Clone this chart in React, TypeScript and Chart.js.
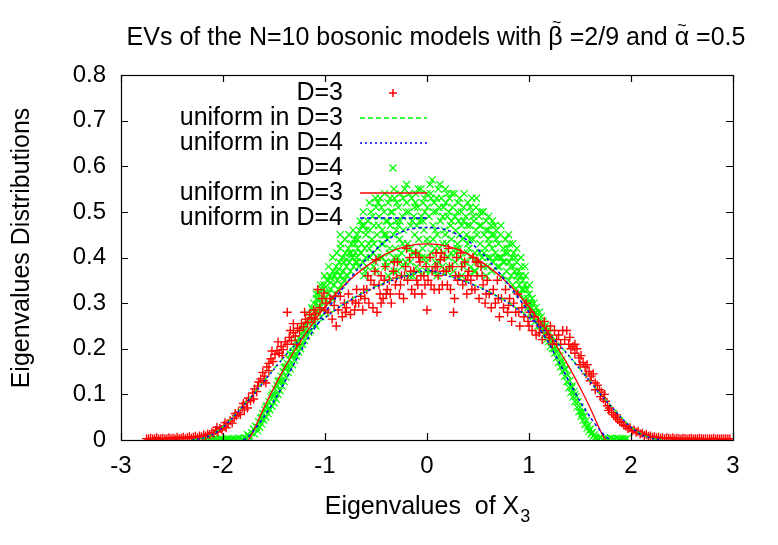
import { useEffect, useRef } from "react";
import { Chart, registerables } from "chart.js";
Chart.register(...registerables);

const TITLE_PARTS = ["EVs of the N=10 bosonic models with ", "β", " =2/9 and ", "α", " =0.5"];
const TILDE = "~";
const X_TITLE = "Eigenvalues  of X";
const X_TITLE_SUB = "3";
const Y_TITLE = "Eigenvalues Distributions";

const xTicks = [-3, -2, -1, 0, 1, 2, 3];
const xTickLabels = ["-3", "-2", "-1", "0", "1", "2", "3"];
const yTicks = [0, 0.1, 0.2, 0.3, 0.4, 0.5, 0.6, 0.7, 0.8];
const yTickLabels = ["0", "0.1", "0.2", "0.3", "0.4", "0.5", "0.6", "0.7", "0.8"];

const legendLabels = ["D=3", "uniform in D=3", "uniform in D=4", "D=4", "uniform in D=3", "uniform in D=4"];

// D=3 eigenvalue histogram points (red +)
const d3Points: [number, number][] = [
  [-2.75,.003],[-2.73,.002],[-2.71,.004],[-2.69,.002],[-2.67,.003],[-2.65,.005],[-2.63,.002],[-2.61,.003],[-2.59,.004],[-2.57,.002],
  [-2.55,.003],[-2.53,.005],[-2.51,.003],[-2.49,.004],[-2.47,.002],[-2.45,.006],[-2.43,.003],[-2.41,.004],[-2.39,.006],[-2.37,.003],
  [-2.35,.005],[-2.33,.007],[-2.31,.004],[-2.29,.006],[-2.27,.008],[-2.25,.005],[-2.23,.009],[-2.21,.007],[-2.19,.011],[-2.17,.009],
  [-2.15,.013],[-2.13,.012],[-2.11,.016],
  [-2.09,.015],[-2.07,.021],[-2.05,.018],[-2.03,.025],[-2.01,.022],[-1.99,.031],[-1.97,.027],[-1.95,.036],[-1.93,.042],[-1.91,.037],
  [-1.89,.048],[-1.87,.053],[-1.85,.06],[-1.83,.056],[-1.81,.072],[-1.79,.066],[-1.77,.083],[-1.75,.092],[-1.73,.086],[-1.71,.103],
  [-1.69,.112],[-1.67,.106],[-1.65,.127],[-1.63,.134],[-1.61,.148],[-1.59,.14],[-1.57,.16],[-1.55,.168],[-1.53,.178],[-1.51,.172],
  [-1.49,.188],[-1.47,.196],[-1.45,.19],[-1.43,.205],[-1.41,.198],[-1.39,.215],[-1.37,.28],[-1.37,.21],[-1.35,.225],[-1.33,.218],
  [-1.31,.235],[-1.29,.228],[-1.27,.245],[-1.6,.13],[-1.7,.09],[-1.8,.08],[-1.46,.215],[-1.55,.152],[-1.31,.255],
  [-1.88,.058],[-1.76,.07],[-1.66,.118],[-1.58,.125],[-1.52,.195],[-1.42,.185],[-1.34,.24],[-1.28,.21],[-1.98,.038],[-2.06,.028],
  [-1.25,.24],[-1.23,.255],[-1.21,.248],[-1.19,.265],[-1.17,.258],[-1.15,.275],[-1.13,.268],[-1.11,.285],[-1.09,.278],[-1.07,.33],
  [-1.05,.29],[-1.03,.31],[-1.01,.322],[-0.99,.3],[-0.97,.28],[-0.95,.31],[-0.93,.265],[-0.91,.295],[-0.89,.25],[-0.87,.285],
  [-0.85,.315],[-0.83,.27],[-0.81,.3],[-0.79,.29],[-0.77,.32],[-0.75,.275],[-0.73,.305],[-0.71,.285],[-0.69,.33],[-0.67,.3],
  [-0.65,.315],[-0.63,.285],[-0.61,.31],[-1.2,.28],[-1.1,.265],[-1.0,.285],[-0.9,.315],[-0.8,.28],[-0.7,.3],[-0.62,.33],
  [-0.59,.33],[-0.57,.3],[-0.55,.35],[-0.53,.29],[-0.51,.37],[-0.49,.28],[-0.47,.34],[-0.45,.36],[-0.43,.31],[-0.41,.38],
  [-0.39,.33],[-0.37,.35],[-0.35,.3],[-0.33,.37],[-0.31,.34],[-0.29,.39],[-0.27,.32],[-0.25,.36],[-0.23,.31],[-0.21,.38],
  [-0.19,.35],[-0.17,.4],[-0.15,.33],[-0.13,.37],[-0.11,.41],[-0.09,.34],[-0.07,.39],[-0.05,.32],[-0.03,.36],[-0.01,.38],
  [0.0,.285],[0.01,.35],[0.03,.4],[0.05,.37],[0.07,.33],[0.09,.41],[0.11,.36],[0.13,.395],[0.15,.34],[0.17,.4],
  [0.19,.37],[0.21,.42],[0.23,.33],[0.25,.38],[0.27,.31],[0.29,.4],[0.31,.36],[0.33,.41],[0.35,.34],[0.37,.39],
  [0.39,.32],[0.41,.37],[0.43,.35],[0.45,.4],[0.47,.33],[0.49,.36],[0.51,.31],[0.53,.38],[0.55,.34],[0.57,.3],[0.59,.35],
  [-0.5,.395],[-0.3,.355],[-0.1,.35],[0.1,.38],[0.3,.35],[0.5,.39],[-0.2,.42],[0.2,.34],[0.26,.28],[-0.4,.32],[0.4,.36],[-0.45,.3],
  [-0.58,.36],[-0.52,.34],[-0.46,.32],[-0.42,.35],[-0.36,.32],[-0.32,.39],[-0.26,.34],[-0.22,.36],[-0.16,.37],[-0.12,.32],
  [-0.06,.36],[-0.02,.34],[0.04,.34],[0.08,.38],[0.12,.33],[0.16,.37],[0.22,.38],[0.28,.36],[0.34,.38],[0.38,.35],
  [0.44,.33],[0.48,.39],[0.54,.36],[0.58,.32],[0.14,.41],[-0.08,.4],
  [0.61,.32],[0.63,.29],[0.65,.33],[0.67,.3],[0.69,.35],[0.71,.27],[0.73,.31],[0.75,.29],[0.77,.33],[0.79,.28],
  [0.81,.31],[0.83,.26],[0.85,.3],[0.87,.28],[0.89,.32],[0.91,.25],[0.93,.29],[0.95,.27],[0.97,.3],[0.99,.26],
  [1.01,.28],[1.03,.24],[1.05,.27],[1.07,.23],[1.09,.26],[1.11,.25],[1.13,.22],[1.15,.26],[1.17,.24],[1.19,.23],
  [1.21,.25],[1.23,.21],[1.25,.24],[1.27,.22],[0.7,.31],[0.8,.295],[0.9,.28],[1.0,.25],[1.1,.235],[1.2,.225],
  [1.29,.23],[1.31,.21],[1.33,.24],[1.35,.22],[1.37,.24],[1.39,.21],[1.41,.2],[1.43,.205],[1.45,.19],[1.47,.2],
  [1.49,.18],[1.51,.185],[1.53,.17],[1.55,.16],[1.57,.165],[1.59,.15],[1.61,.14],[1.63,.145],[1.65,.125],[1.67,.12],
  [1.69,.11],[1.71,.105],[1.73,.09],[1.75,.085],[1.77,.075],[1.79,.07],[1.81,.06],[1.83,.055],[1.85,.05],[1.87,.045],
  [1.89,.04],[1.91,.038],[1.93,.033],[1.95,.03],[1.97,.025],[1.99,.027],[2.01,.02],[2.03,.022],[2.05,.017],[2.07,.019],
  [2.09,.013],[2.11,.015],[2.13,.01],[2.15,.012],[2.17,.008],[2.19,.009],
  [1.5,.165],[1.6,.13],[1.7,.095],[1.4,.225],[1.65,.11],[1.45,.21],[1.78,.065],[1.86,.055],[1.56,.145],[1.74,.1],
  [2.21,.006],[2.23,.007],[2.25,.005],[2.27,.006],[2.29,.004],[2.31,.005],[2.33,.003],[2.35,.005],[2.37,.004],[2.39,.003],
  [2.41,.005],[2.43,.002],[2.45,.004],[2.47,.003],[2.49,.002],[2.51,.004],[2.53,.003],[2.55,.002],[2.57,.003],[2.59,.004],
  [2.61,.002],[2.63,.003],[2.65,.002],[2.67,.004],[2.69,.003],[2.71,.002],[2.73,.003],[2.75,.002],[2.77,.003],[2.79,.002],
  [2.81,.004],[2.83,.002],[2.85,.003],[2.87,.002],[2.89,.003],[2.91,.002],[2.93,.003],[2.95,.002],[2.97,.003],
];

// D=4 eigenvalue histogram points (green x)
const d4Points: [number, number][] = [
  [-2.19,.002],[-2.17,.001],[-2.15,.003],[-2.13,.002],[-2.11,.001],[-2.09,.003],[-2.07,.002],[-2.05,.001],[-2.03,.003],[-2.01,.002],
  [-1.99,.001],[-1.97,.002],[-1.95,.003],[-1.93,.001],[-1.91,.002],[-1.89,.003],[-1.87,.002],[-1.85,.004],[-1.83,.003],[-1.81,.002],
  [-1.79,.005],[-1.77,.004],[-1.75,.007],
  [-1.76,.012],[-1.74,.009],[-1.72,.016],[-1.7,.024],[-1.69,.013],[-1.68,.03],[-1.66,.02],[-1.65,.04],[-1.64,.028],[-1.63,.048],
  [-1.62,.035],[-1.61,.058],[-1.6,.044],[-1.59,.066],[-1.58,.05],[-1.57,.075],[-1.56,.058],[-1.55,.084],[-1.54,.066],[-1.53,.094],
  [-1.52,.074],[-1.51,.102],[-1.5,.082],[-1.49,.112],[-1.48,.09],[-1.47,.12],[-1.46,.1],[-1.45,.13],[-1.44,.108],[-1.43,.14],
  [-1.42,.118],[-1.41,.15],[-1.4,.128],[-1.39,.16],[-1.38,.138],[-1.37,.168],[-1.36,.148],[-1.35,.176],[-1.34,.156],[-1.33,.186],
  [-1.32,.165],[-1.31,.194],[-1.3,.175],[-1.29,.203],[-1.28,.184],[-1.27,.212],[-1.26,.193],[-1.25,.222],[-1.24,.2],[-1.23,.232],
  [-1.22,.21],[-1.21,.24],[-1.2,.218],[-1.19,.25],[-1.18,.228],[-1.17,.258],[-1.16,.236],
  [-1.58,.072],[-1.52,.098],[-1.46,.128],[-1.4,.158],[-1.34,.188],[-1.28,.218],[-1.22,.245],[-1.55,.07],[-1.49,.1],[-1.43,.13],
  [-1.37,.16],[-1.31,.185],[-1.25,.205],[-1.19,.235],[-1.62,.05],[-1.67,.028],
  [-1.15,.27],[-1.14,.24],[-1.13,.29],[-1.12,.26],[-1.11,.3],[-1.1,.27],[-1.09,.25],[-1.08,.31],[-1.07,.28],[-1.06,.32],
  [-1.05,.29],[-1.04,.27],[-1.03,.33],[-1.02,.3],[-1.01,.34],[-1.0,.31],[-0.99,.28],[-0.98,.35],[-0.97,.32],[-0.96,.3],
  [-0.95,.36],[-0.94,.33],[-0.93,.31],[-0.92,.37],[-0.91,.34],[-0.9,.32],[-0.89,.38],[-0.88,.35],[-0.87,.33],[-0.86,.39],
  [-0.85,.36],[-0.85,.42],[-0.85,.45],[-0.84,.34],[-0.83,.4],[-0.82,.37],[-0.81,.35],[-0.8,.41],[-0.79,.38],[-0.78,.36],
  [-0.77,.42],[-0.76,.39],[-0.75,.37],[-0.74,.43],[-0.73,.4],[-0.72,.38],[-0.71,.44],[-0.7,.41],
  [-1.12,.285],[-1.06,.295],[-1.0,.335],[-0.94,.355],[-0.88,.37],[-0.82,.39],[-0.76,.41],[-0.7,.39],
  [-1.105,.255],[-1.065,.305],[-1.025,.285],[-0.985,.325],[-0.945,.345],[-0.905,.36],[-0.865,.375],[-0.825,.355],[-0.785,.395],[-0.745,.41],
  [-0.705,.43],[-1.085,.32],[-1.045,.34],[-1.005,.36],[-0.965,.38],[-0.925,.40],[-0.885,.41],[-0.845,.43],[-0.805,.44],[-0.765,.45],[-0.725,.46],
  [-0.69,.40],[-0.68,.44],[-0.67,.38],[-0.66,.46],[-0.65,.41],[-0.64,.43],[-0.63,.39],[-0.62,.47],[-0.61,.42],[-0.60,.45],
  [-0.59,.38],[-0.58,.48],[-0.57,.43],[-0.56,.40],[-0.55,.50],[-0.54,.44],[-0.53,.41],[-0.52,.47],[-0.51,.39],[-0.50,.51],
  [-0.49,.45],[-0.48,.42],[-0.47,.49],[-0.46,.53],[-0.45,.40],[-0.44,.46],[-0.43,.43],[-0.42,.50],[-0.41,.38],[-0.40,.48],
  [-0.39,.44],[-0.38,.52],[-0.37,.41],[-0.36,.47],[-0.35,.39],[-0.34,.50],[-0.33,.45],[-0.32,.53],[-0.31,.42],[-0.30,.48],
  [-0.29,.37],[-0.28,.51],[-0.27,.44],[-0.26,.54],[-0.25,.41],[-0.24,.49],[-0.23,.46],[-0.22,.55],[-0.21,.39],[-0.20,.52],
  [-0.19,.43],[-0.18,.50],[-0.17,.36],[-0.16,.47],[-0.15,.53],[-0.14,.41],[-0.13,.49],[-0.12,.45],[-0.11,.54],[-0.10,.38],
  [-0.09,.51],[-0.08,.44],[-0.07,.48],[-0.06,.55],[-0.05,.40],[-0.04,.52],[-0.03,.46],[-0.02,.50],[-0.01,.37],[0.00,.54],
  [0.01,.43],[0.02,.49],[0.03,.56],[0.04,.41],[0.05,.57],[0.06,.47],[0.07,.52],[0.08,.39],[0.09,.50],[0.10,.45],
  [0.11,.55],[0.12,.42],[0.13,.48],[0.14,.53],[0.15,.38],[0.16,.51],[0.17,.46],[0.18,.55],[0.19,.43],[0.20,.49],
  [0.21,.40],[0.22,.53],[0.23,.47],[0.24,.44],[0.25,.51],[0.26,.37],[0.27,.54],[0.28,.46],[0.29,.42],[0.30,.50],
  [0.31,.48],[0.32,.53],[0.33,.40],[0.34,.47],[0.35,.44],[0.36,.51],[0.37,.39],[0.38,.49],[0.39,.45],[0.40,.52],
  [0.41,.42],[0.42,.47],[0.43,.38],[0.44,.50],[0.45,.44],[0.46,.48],[0.47,.41],[0.48,.51],[0.49,.45],[0.50,.39],
  [0.51,.49],[0.52,.43],[0.53,.47],[0.54,.40],[0.55,.50],[0.56,.45],[0.57,.42],[0.58,.48],[0.59,.38],[0.60,.46],
  [0.61,.43],[0.62,.40],[0.63,.47],[0.64,.42],[0.65,.39],[0.66,.45],[0.67,.41],[0.68,.44],[0.69,.38],
  [-0.68,.42],[-0.64,.47],[-0.60,.40],[-0.56,.46],[-0.52,.43],[-0.48,.52],[-0.44,.40],[-0.40,.45],[-0.36,.53],[-0.32,.40],
  [-0.28,.47],[-0.24,.43],[-0.20,.56],[-0.16,.42],[-0.12,.51],[-0.08,.41],[-0.04,.48],[0.00,.44],[0.04,.53],[0.08,.46],
  [0.12,.51],[0.16,.41],[0.20,.54],[0.24,.48],[0.28,.41],[0.32,.45],[0.36,.48],[0.40,.43],[0.44,.53],[0.48,.46],
  [0.52,.50],[0.56,.41],[0.60,.44],[0.64,.48],[0.68,.46],
  [-0.62,.36],[-0.5,.37],[-0.38,.36],[-0.26,.39],[-0.14,.36],[-0.02,.4],[0.1,.36],[0.22,.38],[0.34,.36],[0.46,.37],[0.58,.36],
  [-0.3,.46],[-0.1,.47],[0.06,.44],[0.18,.45],[0.3,.43],[-0.42,.45],[0.42,.44],
  [-0.685,.45],[-0.655,.48],[-0.625,.5],[-0.595,.46],[-0.565,.52],[-0.535,.49],[-0.505,.53],[-0.475,.47],[-0.445,.51],[-0.415,.54],
  [-0.385,.48],[-0.355,.5],[-0.325,.55],[-0.295,.52],[-0.265,.48],[-0.235,.53],[-0.205,.5],[-0.175,.54],[-0.145,.48],[-0.115,.52],
  [-0.085,.55],[-0.055,.49],[-0.025,.53],[0.005,.51],[0.035,.54],[0.065,.5],[0.095,.53],[0.125,.56],[0.155,.49],[0.185,.52],
  [0.215,.5],[0.245,.54],[0.275,.49],[0.305,.52],[0.335,.5],[0.365,.54],[0.395,.47],[0.425,.51],[0.455,.49],[0.485,.53],
  [0.515,.47],[0.545,.5],[0.575,.46],[0.605,.49],[0.635,.45],[0.665,.47],
  [-0.685,.39],[-0.645,.41],[-0.605,.37],[-0.565,.42],[-0.525,.38],[-0.485,.4],[-0.445,.43],[-0.405,.39],[-0.365,.42],[-0.325,.37],
  [-0.285,.4],[-0.245,.38],[-0.205,.42],[-0.165,.39],[-0.125,.41],[-0.085,.37],[-0.045,.42],[-0.005,.39],[0.035,.37],[0.075,.42],
  [0.115,.39],[0.155,.43],[0.195,.37],[0.235,.41],[0.275,.39],[0.315,.42],[0.355,.38],[0.395,.41],[0.435,.4],[0.475,.37],
  [0.515,.41],[0.555,.38],[0.595,.4],[0.635,.37],[0.675,.4],
  [0.70,.43],[0.71,.38],[0.72,.45],[0.73,.40],[0.74,.36],[0.75,.42],[0.76,.39],[0.77,.44],[0.78,.37],[0.79,.41],
  [0.80,.35],[0.81,.43],[0.82,.38],[0.83,.40],[0.84,.34],[0.85,.41],[0.86,.37],[0.87,.33],[0.88,.39],[0.89,.35],
  [0.90,.37],[0.91,.32],[0.92,.36],[0.93,.33],[0.94,.35],[0.95,.31],[0.96,.34],[0.97,.30],[0.98,.33],[0.99,.29],
  [1.00,.32],[1.01,.30],[1.02,.28],[1.03,.31],[1.04,.27],[1.05,.30],[1.06,.26],[1.07,.29],[1.08,.27],[1.09,.25],
  [1.10,.28],[1.11,.25],[1.12,.27],[1.13,.24],[1.14,.26],[1.15,.23],[1.16,.25],[1.17,.22],[1.18,.24],[1.19,.215],
  [1.20,.235],[1.21,.205],[1.22,.225],[1.23,.2],[1.24,.215],[1.25,.19],[1.26,.205],[1.27,.18],[1.28,.195],[1.29,.17],
  [1.30,.185],[1.31,.16],[1.32,.175],[1.33,.15],[1.34,.165],[1.35,.14],[1.36,.155],[1.37,.128],[1.38,.142],[1.39,.115],
  [1.40,.13],[1.41,.104],[1.42,.118],[1.43,.094],[1.44,.106],[1.45,.084],[1.46,.095],[1.47,.072],[1.48,.084],[1.49,.062],
  [1.50,.072],[1.51,.052],[1.52,.062],[1.53,.043],[1.54,.052],[1.55,.034],[1.56,.042],[1.57,.026],[1.58,.032],[1.59,.019],
  [1.60,.024],[1.61,.013],[1.62,.017],[1.63,.009],[1.64,.011],[1.65,.006],
  [0.8,.45],[0.84,.43],[0.88,.42],[0.92,.4],[0.96,.38],
  [0.705,.4],[0.745,.39],[0.785,.42],[0.825,.36],[0.865,.4],[0.905,.34],[0.945,.33],[0.985,.31],[1.025,.29],[1.065,.28],
  [0.725,.47],[0.765,.41],[0.805,.39],[0.845,.38],[0.885,.36],[0.925,.38],[0.965,.36],[1.005,.34],
  [1.05,.275],[1.15,.245],[1.25,.2],[1.35,.155],[1.45,.1],[1.02,.3],[1.12,.255],[1.22,.215],[1.32,.17],[1.42,.115],[1.52,.058],
  [1.66,.004],[1.68,.003],[1.70,.005],[1.72,.002],[1.74,.004],[1.76,.003],[1.78,.002],[1.80,.004],[1.82,.003],[1.84,.002],
  [1.86,.004],[1.88,.003],[1.90,.002],[1.92,.003],[1.94,.002],[1.96,.003],
];

// Fitted "uniform" curves
const d3CurveX = [-2.3,-2.2,-2.1,-2.0,-1.9,-1.8,-1.7,-1.6,-1.5,-1.4,-1.3,-1.2,-1.1,-1.0,-0.8,-0.6,-0.4,-0.2,0,0.2,0.4,0.6,0.8,1.0,1.1,1.2,1.3,1.4,1.5,1.6,1.7,1.8,1.9,2.0,2.1,2.2,2.3];
const d3GreenY = [0,0.004,0.013,0.029,0.051,0.076,0.101,0.129,0.156,0.183,0.208,0.231,0.251,0.269,0.301,0.326,0.346,0.361,0.369,0.361,0.346,0.326,0.301,0.269,0.251,0.231,0.208,0.183,0.156,0.129,0.101,0.076,0.051,0.029,0.013,0.004,0];
const d3BlueY = [0,0.004,0.012,0.028,0.05,0.075,0.1,0.128,0.155,0.182,0.207,0.23,0.25,0.268,0.3,0.325,0.345,0.36,0.372,0.36,0.345,0.325,0.3,0.268,0.25,0.23,0.207,0.182,0.155,0.128,0.1,0.075,0.05,0.028,0.012,0.004,0];

const d4RedX = [-1.75,-1.7,-1.6,-1.5,-1.4,-1.3,-1.2,-1.1,-1.0,-0.8,-0.6,-0.4,-0.2,0,0.2,0.4,0.6,0.8,1.0,1.1,1.2,1.3,1.4,1.5,1.6,1.7,1.75];
const d4RedY = [0,0.02,0.07,0.115,0.157,0.195,0.23,0.262,0.292,0.342,0.38,0.408,0.425,0.43,0.425,0.408,0.38,0.342,0.292,0.262,0.23,0.195,0.157,0.115,0.07,0.02,0];

const d4BlueX = [-1.8,-1.75,-1.7,-1.6,-1.5,-1.4,-1.3,-1.2,-1.1,-1.0,-0.8,-0.6,-0.4,-0.2,0,0.2,0.4,0.6,0.8,1.0,1.1,1.2,1.3,1.4,1.5,1.6,1.7,1.75,1.8];
const d4BlueY = [0,0.008,0.02,0.05,0.085,0.125,0.168,0.21,0.245,0.28,0.34,0.395,0.437,0.46,0.466,0.46,0.437,0.395,0.34,0.28,0.245,0.21,0.168,0.125,0.085,0.05,0.02,0.008,0];

const RED = "#ff0000";
const GREEN = "#00ff00";
const BLUE = "#0000ff";
const FONT = "'Liberation Sans', Arial, Helvetica, sans-serif";

const pts = (p: [number, number][]) => p.map(([x, y]) => ({ x, y }));
const xy = (xs: number[], ys: number[]) => xs.map((x, i) => ({ x, y: ys[i] }));

const decorPlugin = {
  id: "gnuplotDecor",
  afterDraw(chart: any) {
    const { ctx, chartArea: a, scales } = chart;
    const sx = scales.x;
    const sy = scales.y;
    ctx.save();
    // frame
    ctx.strokeStyle = "#000";
    ctx.lineWidth = 1.2;
    ctx.strokeRect(Math.round(a.left) + 0.5, Math.round(a.top) + 0.5, Math.round(a.right - a.left), Math.round(a.bottom - a.top));
    // inward ticks, mirrored
    const TL = 7;
    ctx.beginPath();
    xTicks.forEach((v) => {
      const px = Math.round(sx.getPixelForValue(v)) + 0.5;
      ctx.moveTo(px, a.bottom); ctx.lineTo(px, a.bottom - TL);
      ctx.moveTo(px, a.top); ctx.lineTo(px, a.top + TL);
    });
    yTicks.forEach((v) => {
      const py = Math.round(sy.getPixelForValue(v)) + 0.5;
      ctx.moveTo(a.left, py); ctx.lineTo(a.left + TL, py);
      ctx.moveTo(a.right, py); ctx.lineTo(a.right - TL, py);
    });
    ctx.stroke();
    // tick labels
    ctx.fillStyle = "#000";
    ctx.font = `24px ${FONT}`;
    ctx.textAlign = "center";
    ctx.textBaseline = "middle";
    xTicks.forEach((v, i) => ctx.fillText(xTickLabels[i], sx.getPixelForValue(v), a.bottom + 26));
    ctx.textAlign = "right";
    yTicks.forEach((v, i) => ctx.fillText(yTickLabels[i], a.left - 15, sy.getPixelForValue(v)));
    // title (with tildes over the greek letters)
    ctx.font = `25px ${FONT}`;
    ctx.textAlign = "left";
    const widths = TITLE_PARTS.map((t) => ctx.measureText(t).width);
    const total = widths.reduce((s, w) => s + w, 0);
    let tx = 436 - total / 2;
    const ty = 38;
    TITLE_PARTS.forEach((t, i) => {
      ctx.font = `25px ${FONT}`;
      ctx.fillText(t, tx, ty);
      if (t === "β" || t === "α") {
        ctx.font = `16px ${FONT}`;
        const tw = ctx.measureText(TILDE).width;
        ctx.fillText(TILDE, tx + widths[i] / 2 - tw / 2 + (t === "β" ? 1 : 0), ty - (t === "β" ? 14 : 11));
      }
      tx += widths[i];
    });
    // x title with subscript
    ctx.font = `25px ${FONT}`;
    const mainW = ctx.measureText(X_TITLE).width;
    ctx.font = `18px ${FONT}`;
    const subW = ctx.measureText(X_TITLE_SUB).width;
    const cx = (a.left + a.right) / 2;
    const start = cx - (mainW + subW) / 2;
    ctx.textAlign = "left";
    ctx.font = `25px ${FONT}`;
    ctx.fillText(X_TITLE, start, 507);
    ctx.font = `18px ${FONT}`;
    ctx.fillText(X_TITLE_SUB, start + mainW + 1, 517);
    // y title
    ctx.font = `25px ${FONT}`;
    ctx.textAlign = "center";
    ctx.save();
    ctx.translate(22, 248);
    ctx.rotate(-Math.PI / 2);
    ctx.fillText(Y_TITLE, 0, 0);
    ctx.restore();
    // legend
    const rows = [93, 118, 143, 168, 193, 218];
    const textRight = 343;
    const s0 = 360, s1 = 427, sm = 393;
    ctx.textAlign = "right";
    ctx.font = `25px ${FONT}`;
    rows.forEach((ry, i) => ctx.fillText(legendLabels[i], textRight, ry));
    ctx.lineWidth = 1.5;
    // row 1: red +
    ctx.strokeStyle = RED;
    ctx.beginPath();
    ctx.moveTo(sm - 4, rows[0]); ctx.lineTo(sm + 4, rows[0]);
    ctx.moveTo(sm, rows[0] - 4); ctx.lineTo(sm, rows[0] + 4);
    ctx.stroke();
    const seg = (y: number, color: string, dash: number[]) => {
      ctx.strokeStyle = color;
      ctx.lineWidth = 1.5;
      ctx.setLineDash(dash);
      ctx.beginPath();
      ctx.moveTo(s0, y); ctx.lineTo(s1, y);
      ctx.stroke();
      ctx.setLineDash([]);
    };
    seg(rows[1], GREEN, [5, 3]);
    seg(rows[2], BLUE, [2, 3]);
    // row 4: green x
    ctx.strokeStyle = GREEN;
    ctx.lineWidth = 1.3;
    ctx.beginPath();
    ctx.moveTo(sm - 3.5, rows[3] - 3.5); ctx.lineTo(sm + 3.5, rows[3] + 3.5);
    ctx.moveTo(sm - 3.5, rows[3] + 3.5); ctx.lineTo(sm + 3.5, rows[3] - 3.5);
    ctx.stroke();
    seg(rows[4], RED, []);
    seg(rows[5], BLUE, [4, 3]);
    ctx.restore();
  },
};

export default function App() {
  const ref = useRef<HTMLCanvasElement | null>(null);
  useEffect(() => {
    document.body.style.margin = "0";
    if (!ref.current) return;
    const chart = new Chart(ref.current, {
      type: "scatter",
      data: {
        datasets: [
          { label: legendLabels[0], data: pts(d3Points), pointStyle: "cross", pointRadius: 4.5, borderColor: RED, backgroundColor: RED, borderWidth: 1.4, showLine: false, order: 5 } as any,
          { label: legendLabels[1], data: xy(d3CurveX, d3GreenY), showLine: true, pointRadius: 0, borderColor: GREEN, borderWidth: 1.3, borderDash: [5, 3], tension: 0.3, order: 4 },
          { label: legendLabels[2], data: xy(d3CurveX, d3BlueY), showLine: true, pointRadius: 0, borderColor: BLUE, borderWidth: 1.5, borderDash: [2, 3], tension: 0.3, order: 3 },
          { label: legendLabels[3], data: pts(d4Points), pointStyle: "crossRot", pointRadius: 5, borderColor: GREEN, backgroundColor: GREEN, borderWidth: 1.2, showLine: false, order: 6 } as any,
          { label: legendLabels[4], data: xy(d4RedX, d4RedY), showLine: true, pointRadius: 0, borderColor: RED, borderWidth: 1.3, tension: 0.3, order: 2 },
          { label: legendLabels[5], data: xy(d4BlueX, d4BlueY), showLine: true, pointRadius: 0, borderColor: BLUE, borderWidth: 1.5, borderDash: [3, 3], tension: 0.3, order: 1 },
        ],
      },
      options: {
        animation: false,
        responsive: false,
        devicePixelRatio: 1,
        layout: { padding: { left: 121, right: 45, top: 75, bottom: 105 } },
        scales: {
          x: { type: "linear", min: -3, max: 3, display: false },
          y: { type: "linear", min: 0, max: 0.8, display: false },
        },
        plugins: { legend: { display: false }, tooltip: { enabled: false }, title: { display: false } },
        events: [],
      },
      plugins: [decorPlugin],
    });
    return () => chart.destroy();
  }, []);
  return (
    <div style={{ position: "absolute", left: 0, top: 0, width: 778, height: 545, background: "#fff" }}>
      <canvas ref={ref} width={778} height={545} style={{ display: "block" }} />
    </div>
  );
}
